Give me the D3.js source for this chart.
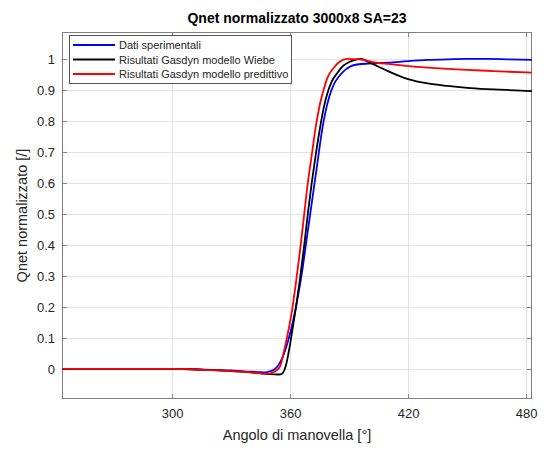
<!DOCTYPE html>
<html>
<head>
<meta charset="utf-8">
<script src="https://cdn.jsdelivr.net/npm/d3@7"></script>
<style>
  html, body { margin: 0; padding: 0; background: #fff; }
  svg { display: block; font-family: "Liberation Sans", Arial, sans-serif; }
</style>
</head>
<body>
<svg id="chart" width="547" height="450"></svg>
<script>
// ---- Data ----
const seriesNames = ["Dati sperimentali", "Risultati Gasdyn modello Wiebe", "Risultati Gasdyn modello predittivo"];
const seriesColors = ["#0000ff", "#000000", "#ff0000"];

const blueAngle = [244, 260, 280, 300, 310, 320, 330, 335, 340, 344, 347, 350, 352, 354, 356, 358, 360, 362, 364, 366, 368, 370, 372, 374, 376, 378, 380, 382, 385, 388, 391, 395, 400, 410, 420, 430, 440, 450, 460, 470, 483];
const blueValue = [0, 0, 0, 0, -0.001, -0.003, -0.005, -0.007, -0.009, -0.01, -0.011, -0.007, -0.002, 0.012, 0.035, 0.07, 0.115, 0.17, 0.235, 0.31, 0.4, 0.49, 0.58, 0.67, 0.76, 0.83, 0.88, 0.915, 0.945, 0.965, 0.977, 0.983, 0.985, 0.988, 0.993, 0.997, 0.999, 1.0, 1.0, 0.999, 0.997];

const blackAngle = [244, 260, 280, 300, 310, 320, 330, 335, 340, 345, 350, 354, 356, 357, 358, 359, 360, 361, 363, 365, 367, 369, 371, 373, 375, 377, 379, 381, 384, 387, 390, 393, 396, 400, 405, 410, 420, 430, 440, 450, 460, 470, 483];
const blackValue = [0, 0, 0, 0, -0.001, -0.004, -0.007, -0.009, -0.011, -0.014, -0.017, -0.018, -0.015, -0.005, 0.015, 0.045, 0.08, 0.12, 0.2, 0.29, 0.39, 0.5, 0.6, 0.69, 0.77, 0.84, 0.89, 0.925, 0.955, 0.978, 0.99, 0.997, 1.0, 0.99, 0.975, 0.96, 0.935, 0.921, 0.913, 0.907, 0.903, 0.9, 0.896];

const redAngle = [244, 260, 280, 300, 310, 320, 330, 335, 340, 345, 348, 351, 353, 355, 357, 359, 361, 363, 365, 367, 369, 371, 373, 375, 377, 379, 382, 385, 389, 395, 400, 405, 410, 420, 430, 440, 450, 460, 470, 483];
const redValue = [0, 0, 0, 0, -0.001, -0.004, -0.007, -0.009, -0.011, -0.014, -0.016, -0.012, -0.005, 0.01, 0.06, 0.12, 0.19, 0.28, 0.38, 0.49, 0.6, 0.69, 0.78, 0.85, 0.9, 0.94, 0.97, 0.99, 1.0, 0.999, 0.993, 0.987, 0.984, 0.977, 0.972, 0.968, 0.965, 0.962, 0.959, 0.956];

const xTicks = [300, 360, 420, 480];
const yTicks = [0, 0.1, 0.2, 0.3, 0.4, 0.5, 0.6, 0.7, 0.8, 0.9, 1];
const yTickLabels = ["0", "0.1", "0.2", "0.3", "0.4", "0.5", "0.6", "0.7", "0.8", "0.9", "1"];

const titleText = "Qnet normalizzato 3000x8 SA=23";
const xLabelText = "Angolo di manovella [°]";
const yLabelText = "Qnet normalizzato [/]";

// ---- Layout ----
const svg = d3.select("#chart");
const L = 62, R = 532, T = 32, B = 399;
const x = d3.scaleLinear().domain([244, 483]).range([L, R]);
const y = d3.scaleLinear().domain([-0.097, 1.087]).range([B, T]);

const textColor = "#262626";
const axisColor = "#808080";

// grid
const g = svg.append("g");
g.selectAll(".vg").data(xTicks).enter().append("line")
  .attr("x1", d => Math.round(x(d)) + 0.5).attr("x2", d => Math.round(x(d)) + 0.5)
  .attr("y1", T).attr("y2", B)
  .attr("stroke", "#e3e3e3").attr("stroke-width", 1);
g.selectAll(".hg").data(yTicks).enter().append("line")
  .attr("y1", d => Math.round(y(d)) + 0.5).attr("y2", d => Math.round(y(d)) + 0.5)
  .attr("x1", L).attr("x2", R)
  .attr("stroke", "#e3e3e3").attr("stroke-width", 1);

// axes via d3 axis
const tickFont = 13;
const xAxisB = d3.axisBottom(x).tickValues(xTicks).tickSizeInner(-5).tickSizeOuter(0).tickPadding(10).tickFormat(d3.format("d"));
const xAxisT = d3.axisTop(x).tickValues(xTicks).tickSizeInner(-5).tickSizeOuter(0).tickFormat("");
const yAxisL = d3.axisLeft(y).tickValues(yTicks).tickSizeInner(-5).tickSizeOuter(0).tickPadding(7).tickFormat((d, i) => yTickLabels[i]);
const yAxisR = d3.axisRight(y).tickValues(yTicks).tickSizeInner(-5).tickSizeOuter(0).tickFormat("");

function styleAxis(sel) {
  sel.select(".domain").remove();
  sel.selectAll(".tick line").attr("stroke", axisColor);
  sel.selectAll(".tick text").attr("fill", textColor).style("font-size", tickFont + "px")
    .style("font-family", "'Liberation Sans', Arial, sans-serif");
}
svg.append("g").attr("transform", `translate(0,${B})`).call(xAxisB).call(styleAxis);
svg.append("g").attr("transform", `translate(0,${T})`).call(xAxisT).call(styleAxis);
svg.append("g").attr("transform", `translate(${L},0)`).call(yAxisL).call(styleAxis);
svg.append("g").attr("transform", `translate(${R},0)`).call(yAxisR).call(styleAxis);

// box
svg.append("rect").attr("x", L + 0.5).attr("y", T + 0.5).attr("width", R - L - 1).attr("height", B - T - 1)
  .attr("fill", "none").attr("stroke", axisColor).attr("stroke-width", 1);

// lines
const series = [
  { a: blueAngle, v: blueValue },
  { a: blackAngle, v: blackValue },
  { a: redAngle, v: redValue }
];
svg.append("clipPath").attr("id", "clip").append("rect")
  .attr("x", L).attr("y", T).attr("width", R - L).attr("height", B - T);
const line = d3.line().x(d => x(d[0])).y(d => y(d[1])).curve(d3.curveMonotoneX);
series.forEach((s, i) => {
  const pts = s.a.map((a, j) => [a, s.v[j]]);
  svg.append("path").attr("d", line(pts)).attr("fill", "none")
    .attr("stroke", seriesColors[i]).attr("stroke-width", 1.8)
    .attr("clip-path", "url(#clip)");
});

// legend
const lg = svg.append("g");
lg.append("rect").attr("x", 69.5).attr("y", 35.5).attr("width", 222).attr("height", 48)
  .attr("fill", "#fff").attr("stroke", "#555").attr("stroke-width", 1);
seriesNames.forEach((n, i) => {
  const yy = 45 + i * 14.5;
  lg.append("line").attr("x1", 73).attr("x2", 115).attr("y1", yy).attr("y2", yy)
    .attr("stroke", seriesColors[i]).attr("stroke-width", 1.8);
  lg.append("text").attr("x", 119).attr("y", yy + 4).text(n)
    .attr("fill", textColor).style("font-size", "11px");
});

// title and labels
svg.append("text").attr("x", (L + R) / 2).attr("y", 23).attr("text-anchor", "middle")
  .style("font-size", "14px").style("font-weight", "bold").attr("fill", "#000").text(titleText);
svg.append("text").attr("x", (L + R) / 2).attr("y", 440).attr("text-anchor", "middle")
  .style("font-size", "14.5px").attr("fill", textColor).text(xLabelText);
svg.append("text").attr("transform", `translate(27,${(T + B) / 2}) rotate(-90)`).attr("text-anchor", "middle")
  .style("font-size", "14.5px").attr("fill", textColor).text(yLabelText);
</script>
</body>
</html>
